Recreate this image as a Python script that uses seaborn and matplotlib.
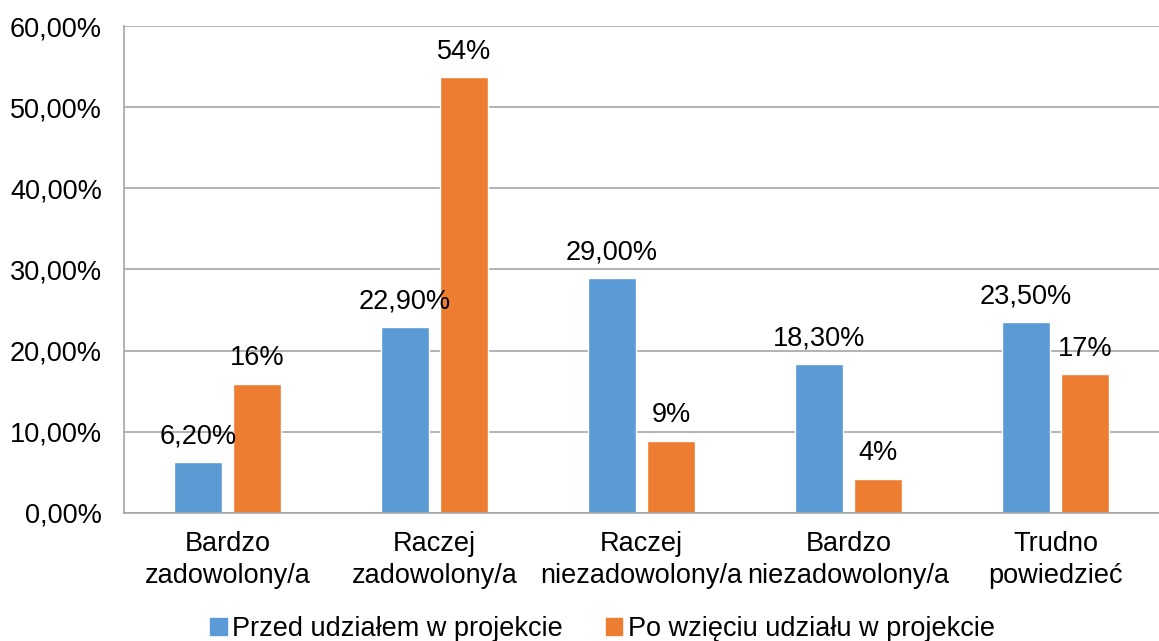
import matplotlib

matplotlib.use("Agg")

import matplotlib.pyplot as plt
import pandas as pd
import seaborn as sns
from matplotlib.patches import Patch
from matplotlib.ticker import FuncFormatter, MultipleLocator

categories = [
    "Bardzo\nzadowolony/a",
    "Raczej\nzadowolony/a",
    "Raczej\nniezadowolony/a",
    "Bardzo\nniezadowolony/a",
    "Trudno\npowiedzieć",
]
series_names = ["Przed udziałem w projekcie", "Po wzięciu udziału w projekcie"]
before = [6.2, 22.9, 29.0, 18.3, 23.5]
after = [15.9, 53.7, 8.9, 4.2, 17.1]
colors = ["#5B9BD5", "#ED7D31"]

df = pd.DataFrame({
    "category": categories * 2,
    "value": before + after,
    "series": [series_names[0]] * 5 + [series_names[1]] * 5,
})

sns.set_theme(style="white")
plt.rcParams["font.family"] = ["Liberation Sans", "DejaVu Sans"]
plt.rcParams["text.color"] = "black"

FS = 19.5

fig = plt.figure(figsize=(11.59, 6.41), dpi=100)
ax = fig.add_axes([0.107, 0.2, 0.893, 0.7594])

sns.barplot(data=df, x="category", y="value", hue="series", palette=colors,
            width=0.57, gap=0.2, ax=ax, legend=False, saturation=1)

ax.set_ylim(0, 60)
ax.set_xlim(-0.5, 4.5)
ax.yaxis.set_major_locator(MultipleLocator(10))
ax.yaxis.set_major_formatter(FuncFormatter(lambda v, _: f"{v:.2f}%".replace(".", ",")))
ax.grid(axis="y", color="#a6a6a6", lw=1.2)
ax.set_axisbelow(True)
for s in ["top", "right"]:
    ax.spines[s].set_visible(False)
for s in ["left", "bottom"]:
    ax.spines[s].set_color("#a6a6a6")
    ax.spines[s].set_linewidth(1.2)
ax.set_xlabel("")
ax.set_ylabel("")
ax.tick_params(axis="both", labelsize=FS, colors="black", length=0)
ax.tick_params(axis="x", pad=13)
ax.tick_params(axis="y", pad=16)
for lbl in ax.get_xticklabels():
    lbl.set_linespacing(1.32)

ax.bar_label(ax.containers[0], labels=[f"{v:.2f}%".replace(".", ",") for v in before],
             padding=9, fontsize=FS, color="black")
ax.bar_label(ax.containers[1], labels=[f"{v:.0f}%" for v in after],
             padding=9, fontsize=FS, color="black")

handles = [Patch(color=c, label=n) for c, n in zip(colors, series_names)]
fig.legend(handles=handles, loc="lower center", bbox_to_anchor=(0.52, -0.04), ncol=2,
           frameon=False, fontsize=FS, handlelength=0.6, handleheight=0.6,
           handletextpad=0.2, columnspacing=1.6)

fig.savefig("out.png", dpi=100)
